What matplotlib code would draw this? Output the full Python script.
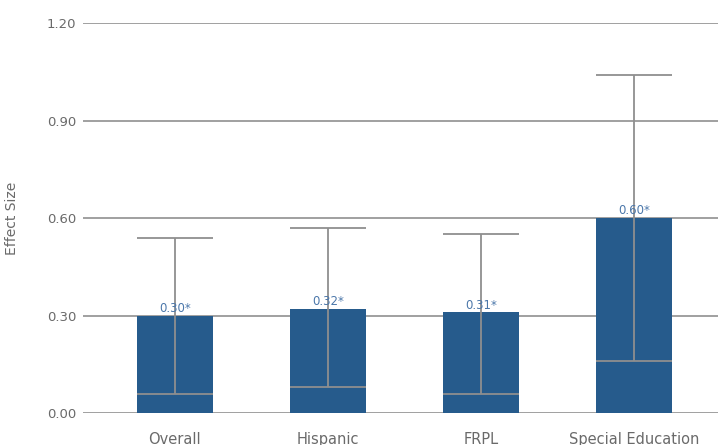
import matplotlib
matplotlib.use("Agg")
import matplotlib.pyplot as plt
import numpy as np

categories = ["Overall", "Hispanic", "FRPL", "Special Education"]
effect = [0.30, 0.32, 0.31, 0.60]
ci_low = [0.06, 0.08, 0.06, 0.16]
ci_high = [0.54, 0.57, 0.55, 1.04]
labels = ["0.30*", "0.32*", "0.31*", "0.60*"]
yticks = [0.0, 0.3, 0.6, 0.9, 1.2]

plt.rcParams['font.family'] = ['DejaVu Sans']

fig = plt.figure(figsize=(7.18, 4.45), dpi=100)
ax = fig.add_axes([0.1156, 0.0719, 0.8844, 0.8764])

x = np.arange(len(categories))
bar_color = "#265b8c"
grid_color = "#a0a0a0"
err_color = "#8f8f8f"

ax.bar(x, effect, width=0.5, color=bar_color, zorder=2)
lower = np.array(effect) - np.array(ci_low)
upper = np.array(ci_high) - np.array(effect)
ax.errorbar(x, effect, yerr=[lower, upper], fmt="none", ecolor=err_color,
            elinewidth=1.3, capsize=27.4, capthick=1.3, zorder=3)

for xi, v, t in zip(x, effect, labels):
    ax.text(xi, v + 0.002, t, ha="center", va="bottom", fontsize=8.5,
            color="#4b77aa", zorder=4)

ax.set_xlim(-0.6, 3.55)
ax.set_ylim(0, 1.2)
ax.set_yticks(yticks)
ax.set_yticklabels([f"{v:.2f}" for v in yticks])
ax.set_xticks(x)
ax.set_xticklabels(categories)
ax.yaxis.grid(True, color=grid_color, linewidth=1.4, zorder=0)
ax.set_axisbelow(True)
for s in ax.spines.values():
    s.set_visible(False)
ax.tick_params(axis="both", length=0, colors="#6a6a6a")
ax.tick_params(axis="y", pad=5, labelsize=9.5)
ax.tick_params(axis="x", pad=14, labelsize=10.5)
fig.text(12 / 718, 1 - 218 / 445, "Effect Size", rotation=90, ha="center",
         va="center", fontsize=10, color="#6a6a6a")

fig.savefig("out.png", dpi=100)
